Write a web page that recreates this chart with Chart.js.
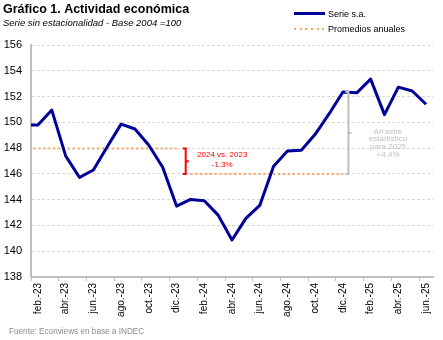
<!DOCTYPE html>
<html>
<head>
<meta charset="utf-8">
<script src="https://cdn.jsdelivr.net/npm/chart.js@4.4.1/dist/chart.umd.min.js"></script>
<style>
  body { margin: 0; background: #fff; }
  #wrap { position: relative; width: 443px; height: 340px; font-family: 'Liberation Sans', Arial, sans-serif; }
  #canvas { display: block; }
  #legend { position: absolute; left: 294px; top: 6px; font-size: 9px; color: #000; }
  #legend .row { display: flex; align-items: center; height: 15px; }
  #legend .swatch { display: inline-block; width: 31px; margin-right: 3px; }
  #fuente { position: absolute; left: 9px; top: 327px; font-size: 8.2px; line-height: 10px; color: #8c8c8c; }
</style>
</head>
<body>
<div id="wrap">
  <canvas id="canvas" width="443" height="340"></canvas>
  <div id="legend"></div>
  <div id="fuente">Fuente: Econviews en base a INDEC</div>
</div>
<script>
// meses ene.-23 .. jun.-25
var meses = ['ene.-23', 'feb.-23', 'mar.-23', 'abr.-23', 'may.-23', 'jun.-23',
             'jul.-23', 'ago.-23', 'sep.-23', 'oct.-23', 'nov.-23', 'dic.-23',
             'ene.-24', 'feb.-24', 'mar.-24', 'abr.-24', 'may.-24', 'jun.-24',
             'jul.-24', 'ago.-24', 'sep.-24', 'oct.-24', 'nov.-24', 'dic.-24',
             'ene.-25', 'feb.-25', 'mar.-25', 'abr.-25', 'may.-25', 'jun.-25'];

var serie = [149.8, 149.8, 150.95, 147.4, 145.72, 146.3,
             148.1, 149.86, 149.48, 148.22, 146.52, 143.5,
             144.02, 143.92, 142.8, 140.87, 142.55, 143.55,
             146.6, 147.78, 147.83, 149.07, 150.65, 152.35,
             152.29, 153.35, 150.6, 152.73, 152.43, 151.4];

var promedio2023 = [147.97, 147.97, 147.97, 147.97, 147.97, 147.97,
                    147.97, 147.97, 147.97, 147.97, 147.97, 147.97];
var promedio2024 = [145.99, 145.99, 145.99, 145.99, 145.99, 145.99,
                    145.99, 145.99, 145.99, 145.99, 145.99, 145.99];

var yTicks = [138, 140, 142, 144, 146, 148, 150, 152, 154, 156];

var naranja = '#F9A35C';
var fuente = "'Liberation Sans', Arial, sans-serif";

// corchetes con texto (variacion 2024 vs 2023 y arrastre)
var notas = [
  { x: 11.66, desde: promedio2023[0], hasta: promedio2024[0], color: '#FF0000',
    texto: ['2024 vs. 2023', '-1.3%'], dx: 36.5, dy: -6, lh: 9.3 },
  { x: 23.4, desde: serie[23], hasta: promedio2024[0], color: '#BFBFBF',
    texto: ['Arrastre', 'estadístico', 'para 2025', '+4.4%'], dx: 39.6, dy: -1.5, lh: 7.7 }
];

var corchetes = {
  id: 'corchetes',
  afterDatasetsDraw: function (chart) {
    var c = chart.ctx, sx = chart.scales.x, sy = chart.scales.y;
    notas.forEach(function (n) {
      var px = sx.getPixelForValue(n.x);
      var y1 = sy.getPixelForValue(n.desde), y2 = sy.getPixelForValue(n.hasta);
      var ym = (y1 + y2) / 2;
      c.save();
      c.strokeStyle = n.color;
      c.lineWidth = 2;
      c.beginPath();
      c.moveTo(px - 3, y1); c.lineTo(px, y1); c.lineTo(px, y2); c.lineTo(px - 3, y2);
      c.moveTo(px, ym); c.lineTo(px + 3, ym);
      c.stroke();
      c.fillStyle = n.color;
      c.font = '8px ' + fuente;
      c.textAlign = 'center';
      c.textBaseline = 'middle';
      n.texto.forEach(function (t, k) {
        c.fillText(t, px + n.dx, ym + n.dy + k * n.lh);
      });
      c.restore();
    });
  }
};

Chart.defaults.font.family = fuente;
Chart.defaults.color = '#000';

var ctx = document.getElementById('canvas').getContext('2d');
var chart = new Chart(ctx, {
  type: 'line',
  data: {
    datasets: [{
      label: 'Serie s.a.',
      data: serie.map(function (v, i) { return { x: i, y: v }; }),
      borderColor: '#000099',
      backgroundColor: '#000099',
      borderWidth: 3,
      borderJoinStyle: 'round',
      pointRadius: 0,
      clip: 0
    }, {
      label: 'Promedios anuales',
      data: promedio2023.map(function (v, i) { return { x: i, y: v }; }),
      borderColor: naranja,
      backgroundColor: naranja,
      borderWidth: 2,
      borderDash: [2, 2.87],
      pointRadius: 0,
      clip: 0
    }, {
      label: 'Promedio 2024',
      data: promedio2024.map(function (v, i) { return { x: i + 12, y: v }; }),
      borderColor: naranja,
      borderWidth: 2,
      borderDash: [2, 2.87],
      pointRadius: 0,
      clip: 0
    }]
  },
  options: {
    responsive: false,
    animation: false,
    devicePixelRatio: 1,
    layout: { padding: { left: 3, right: 10, top: 0, bottom: 0 } },
    plugins: {
      legend: { display: false },
      tooltip: { enabled: false },
      title: {
        display: true,
        text: 'Gráfico 1. Actividad económica',
        align: 'start',
        color: '#000',
        font: { size: 12.5, weight: 'bold' },
        padding: { top: 2, bottom: 0 }
      },
      subtitle: {
        display: true,
        text: 'Serie sin estacionalidad - Base 2004 =100',
        align: 'start',
        color: '#000',
        font: { size: 9.5, style: 'italic' },
        padding: { top: 1, bottom: 15.6 }
      }
    },
    scales: {
      x: {
        type: 'linear',
        min: 0.5,
        max: 29.5,
        afterBuildTicks: function (scale) {
          var t = [];
          meses.forEach(function (m, i) {
            if (i % 2 === 1) { t.push({ value: i - 0.5 }); t.push({ value: i }); }
          });
          scale.ticks = t;
        },
        afterFit: function (scale) { scale.height = 63; },
        ticks: {
          autoSkip: false,
          minRotation: 90,
          maxRotation: 90,
          padding: 2,
          font: { size: 10 },
          callback: function (v) { return Number.isInteger(v) ? meses[v] : ''; }
        },
        grid: {
          drawOnChartArea: false,
          drawTicks: true,
          tickLength: 4,
          tickWidth: 1,
          tickColor: function (c) {
            return c.tick && Number.isInteger(c.tick.value) ? 'rgba(0,0,0,0)' : '#BFBFBF';
          }
        },
        border: { color: '#BFBFBF', width: 2 }
      },
      y: {
        min: 138,
        max: 156,
        afterBuildTicks: function (scale) {
          scale.ticks = yTicks.map(function (v) { return { value: v }; });
        },
        afterFit: function (scale) { scale.width = 28; },
        ticks: { padding: 9, font: { size: 11 } },
        grid: { color: '#D9D9D9', lineWidth: 1, drawTicks: false },
        border: { color: '#BFBFBF', width: 2, dash: [3, 2] }
      }
    }
  },
  plugins: [corchetes]
});

// leyenda en html (dos filas alineadas a la izquierda)
var items = chart.options.plugins.legend.labels.generateLabels(chart).filter(function (it) {
  return it.datasetIndex < 2;
});
document.getElementById('legend').innerHTML = items.map(function (it) {
  var dash = it.lineDash && it.lineDash.length;
  var fondo = dash
    ? 'repeating-linear-gradient(to right,' + it.strokeStyle + ' 0 2px, transparent 2px 5.7px)'
    : it.strokeStyle;
  var alto = dash ? 2 : 3;
  return '<div class="row"><span class="swatch" style="height:' + alto + 'px;background:' + fondo +
    '"></span><span>' + it.text + '</span></div>';
}).join('');
</script>
</body>
</html>
